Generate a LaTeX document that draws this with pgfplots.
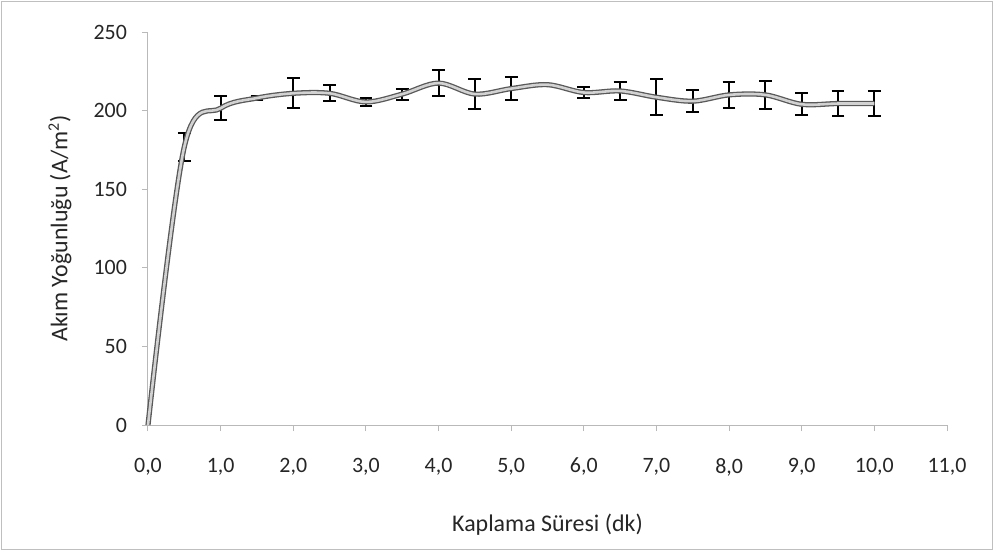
\documentclass[border=0pt]{standalone}
\usepackage{fontspec}
\setmainfont{Carlito}
\usepackage{pgfplots}
\usepackage{pgfplotstable}
\pgfplotsset{compat=1.18}

% current density vs coating time, mean and error
\pgfplotstableread{
x    y      e
0.0  0      0
0.5  177    9
1.0  201.5  7.5
1.5  208    1.5
2.0  211    9.5
2.5  211    5
3.0  205.5  2.5
3.5  210.5  3.5
4.0  217.5  8.5
4.5  210.5  9.5
5.0  214    7.5
5.5  216.5  0
6.0  211.5  3.5
6.5  212.5  5.5
7.0  208.5  11.5
7.5  206    7
8.0  210    8.5
8.5  210    9
9.0  204    7
9.5  204.5  8
10.0 204.5  8
}\dataline

% points that carry an error bar
\pgfplotstableread{
x    y      e
0.5  177    9
1.0  201.5  7.5
1.5  208    1.5
2.0  211    9.5
2.5  211    5
3.0  205.5  2.5
3.5  210.5  3.5
4.0  217.5  8.5
4.5  210.5  9.5
5.0  214    7.5
6.0  211.5  3.5
6.5  212.5  5.5
7.0  208.5  11.5
7.5  206    7
8.0  210    8.5
8.5  210    9
9.0  204    7
9.5  204.5  8
10.0 204.5  8
}\dataerr

\begin{document}
\begin{tikzpicture}
	\begin{axis}[
		scale only axis,
		width=399.5bp,
		height=196.5bp,
		xmin=0, xmax=11,
		ymin=0, ymax=250,
		xtick={0,1,...,11},
		ytick={0,50,...,250},
		axis lines=left,
		axis line style={gray!55, line width=0.5bp, -},
		tick style={gray!55, line width=0.5bp},
		tick align=outside,
		major tick length=3bp,
		font=\fontsize{11}{13}\selectfont,
		/pgf/number format/assume math mode=true,
		tick label style={black!85},
		x tick label style={yshift=-10bp, /pgf/number format/.cd, fixed, fixed zerofill, precision=1, use comma},
		y tick label style={xshift=-4bp},
		xlabel={Kaplama Süresi (dk)},
		ylabel={Akım Yoğunluğu (A/m\textsuperscript{2})},
		label style={black!85, font=\fontsize{12}{14}\selectfont},
		xlabel style={at={(axis description cs:0.5,0)}, anchor=center, yshift=-50bp},
		ylabel style={at={(axis description cs:0,0.5)}, anchor=center, yshift=44bp},
		clip=false,
	]
		% error bars
		\addplot[draw=none, mark=none,
			error bars/.cd, y dir=both, y explicit,
			error bar style={black, line width=1bp},
			error mark options={rotate=90, mark size=3.2bp, line width=1bp, black}]
			table[x=x, y=y, y error=e] {\dataerr};

		% smoothed line
		\addplot[black!65, line width=2.6bp, smooth, tension=0.55, mark=none] table[x=x, y=y] {\dataline};
		\addplot[gray!35, line width=1.3bp, smooth, tension=0.55, mark=none] table[x=x, y=y] {\dataline};

		\coordinate (sw) at (rel axis cs:0,0);
		\coordinate (ne) at (rel axis cs:1,1);
	\end{axis}
	\draw[gray!50, line width=0.5bp] ([xshift=-73bp, yshift=-62bp]sw) rectangle ([xshift=22.5bp, yshift=15bp]ne);
	\path ([xshift=-74bp, yshift=-67bp]sw) rectangle ([xshift=23.5bp, yshift=16bp]ne);
\end{tikzpicture}
\end{document}
